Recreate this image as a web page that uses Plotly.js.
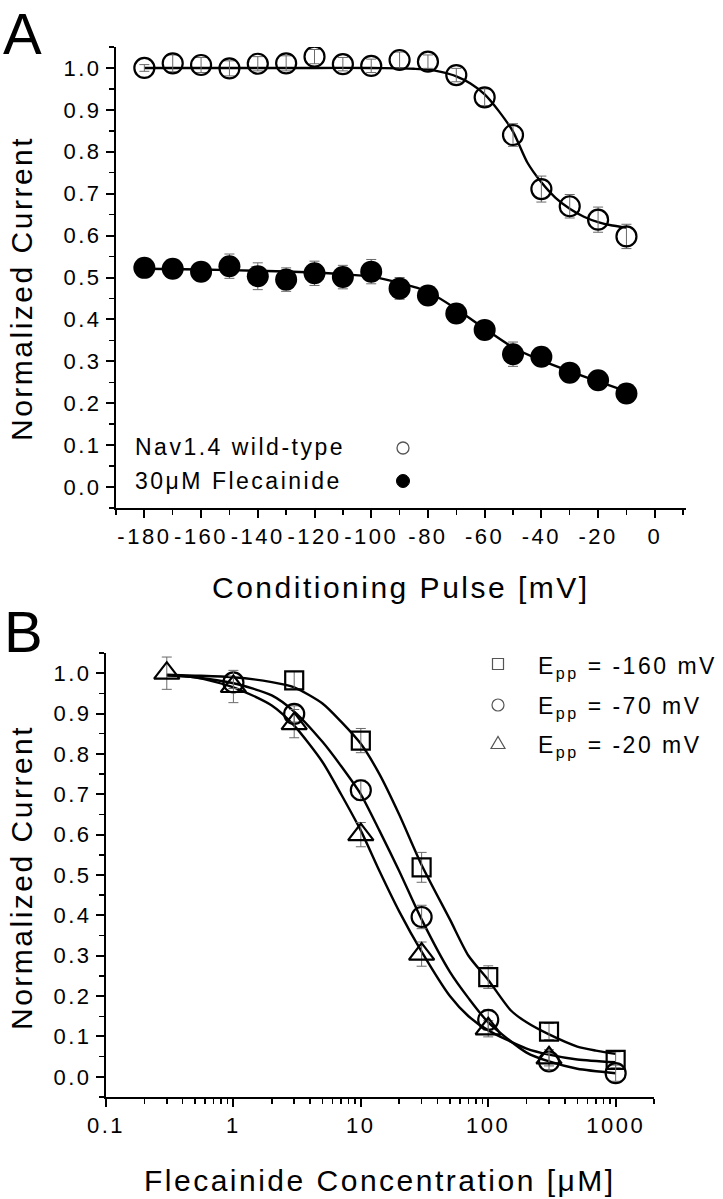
<!DOCTYPE html>
<html><head><meta charset="utf-8">
<script src="https://cdn.plot.ly/plotly-3.0.1.min.js"></script>
<style>
html,body{margin:0;padding:0;background:#fff;}
#chart{width:723px;height:1199px;}
svg text{letter-spacing:2.5px;}
</style></head><body><div id="chart"></div>
<script>
// ---------- Panel A data ----------
const pulseMV = [-180,-170,-160,-150,-140,-130,-120,-110,-100,-90,-80,-70,-60,-50,-40,-30,-20,-10];
const wtCurrent = [1.000,1.011,1.007,0.999,1.010,1.011,1.027,1.009,1.005,1.019,1.015,0.983,0.930,0.840,0.711,0.670,0.638,0.598];
const wtErr     = [0.008,0.020,0.018,0.018,0.017,0.018,0.017,0.016,0.016,0.019,0.016,0.016,0.020,0.027,0.031,0.028,0.030,0.029];
const flecCurrent = [0.523,0.521,0.514,0.527,0.503,0.495,0.510,0.501,0.514,0.474,0.457,0.414,0.375,0.317,0.311,0.273,0.255,0.223];
const flecErr     = [0.012,0.012,0.012,0.029,0.032,0.028,0.029,0.028,0.029,0.026,0.015,0.015,0.015,0.029,0.015,0.015,0.015,0.012];
const wtFitMV  = [-180,-160,-140,-120,-100,-90,-85,-80,-75,-70,-65,-60,-55,-50,-45,-40,-35,-30,-25,-20,-15,-10];
const wtFit    = [1.000,1.000,1.000,1.000,1.000,0.999,0.998,0.996,0.990,0.980,0.963,0.937,0.897,0.848,0.775,0.727,0.690,0.664,0.645,0.632,0.624,0.619];
const flecFitMV = [-180,-160,-140,-120,-110,-100,-90,-80,-70,-60,-50,-40,-30,-20,-10];
const flecFit   = [0.521,0.519,0.516,0.512,0.508,0.502,0.487,0.466,0.425,0.378,0.333,0.302,0.276,0.252,0.228];
const pulseTicks = [-180,-160,-140,-120,-100,-80,-60,-40,-20,0];
const pulseTickText = ['-180','-160','-140','-120','-100','-80','-60','-40','-20','0'];
const legendA = ['Nav1.4 wild-type','30\u03bcM Flecainide'];

// ---------- Panel B data ----------
const sqConc = [3,10,30,100,300,1000];
const sqVal  = [0.982,0.833,0.519,0.247,0.112,0.042];
const sqErr  = [0.022,0.030,0.037,0.028,0.020,0.020];
const ciConc = [1,3,10,30,100,300,1000];
const ciVal  = [0.977,0.899,0.710,0.396,0.141,0.038,0.009];
const ciErr  = [0.015,0.020,0.025,0.029,0.025,0.020,0.020];
const trConc = [0.3,1,3,10,30,100,300];
const trVal  = [1.000,0.967,0.875,0.600,0.304,0.119,0.047];
const trErr  = [0.040,0.040,0.035,0.030,0.030,0.020,0.020];
const sqFitConc = [0.3,0.5,1,2,3,5,7,10,14,20,30,50,70,100,150,200,300,500,700,1000];
const sqFit     = [0.996,0.994,0.990,0.978,0.965,0.925,0.880,0.825,0.750,0.650,0.525,0.390,0.300,0.240,0.165,0.135,0.105,0.075,0.065,0.057];
const ciFitConc = [0.3,0.5,1,2,3,5,7,10,14,20,30,50,70,100,200,300,500,1000];
const ciFit     = [0.995,0.990,0.975,0.945,0.905,0.830,0.770,0.700,0.610,0.510,0.390,0.260,0.195,0.135,0.060,0.038,0.020,0.009];
const trFitConc = [0.3,0.5,1,2,3,5,7,10,14,20,30,50,70,100,200,300,500,1000];
const trFit     = [0.995,0.990,0.965,0.920,0.870,0.780,0.700,0.610,0.510,0.410,0.310,0.200,0.150,0.115,0.070,0.055,0.043,0.036];
const concTicks = [0.1,1,10,100,1000];
const concTickText = ['0.1','1','10','100','1000'];
const legendB = ['E<sub>pp</sub> = -160 mV','E<sub>pp</sub> = -70 mV','E<sub>pp</sub> = -20 mV'];

const yTicks = [0,0.1,0.2,0.3,0.4,0.5,0.6,0.7,0.8,0.9,1.0];
const yTickText = ['0.0','0.1','0.2','0.3','0.4','0.5','0.6','0.7','0.8','0.9','1.0'];

// ---------- helpers ----------
const W = 723, H = 1199;
const px = x => x / W, py = y => 1 - y / H;
const FONT = 'Liberation Sans, Arial, Helvetica, sans-serif';
const errStyle = arr => ({type:'data', array: arr, visible:true, color:'#6a6a6a', thickness:1, width:5});
const fitLine = {color:'#000', width:2.4, shape:'spline', smoothing:0.7};

const traces = [
  {x: wtFitMV, y: wtFit, mode:'lines', line: fitLine, xaxis:'x', yaxis:'y', hoverinfo:'skip'},
  {x: flecFitMV, y: flecFit, mode:'lines', line: fitLine, xaxis:'x', yaxis:'y', hoverinfo:'skip'},
  {x: pulseMV, y: wtCurrent, mode:'markers', error_y: errStyle(wtErr),
   marker:{symbol:'circle-open', size:20, color:'#000', line:{width:2.2}}, xaxis:'x', yaxis:'y'},
  {x: pulseMV, y: flecCurrent, mode:'markers', error_y: errStyle(flecErr),
   marker:{symbol:'circle', size:22, color:'#000'}, xaxis:'x', yaxis:'y'},

  {x: sqFitConc, y: sqFit, mode:'lines', line: fitLine, xaxis:'x2', yaxis:'y2'},
  {x: ciFitConc, y: ciFit, mode:'lines', line: fitLine, xaxis:'x2', yaxis:'y2'},
  {x: trFitConc, y: trFit, mode:'lines', line: fitLine, xaxis:'x2', yaxis:'y2'},
  {x: sqConc, y: sqVal, mode:'markers', error_y: errStyle(sqErr),
   marker:{symbol:'square-open', size:18, color:'#000', line:{width:2.2}}, xaxis:'x2', yaxis:'y2'},
  {x: ciConc, y: ciVal, mode:'markers', error_y: errStyle(ciErr),
   marker:{symbol:'circle-open', size:20, color:'#000', line:{width:2.2}}, xaxis:'x2', yaxis:'y2'},
  {x: trConc, y: trVal, mode:'markers', error_y: errStyle(trErr),
   marker:{symbol:'triangle-up-open', size:22, color:'#000', line:{width:2.2}}, xaxis:'x2', yaxis:'y2'}
];

const axBase = {showline:true, linecolor:'#000', linewidth:2, ticks:'outside', ticklen:8, tickwidth:2,
  tickcolor:'#000', showgrid:false, zeroline:false, fixedrange:true,
  tickfont:{family:FONT, size:22, color:'#000'}};

const layout = {
  width: W, height: H, margin:{l:0,r:0,t:0,b:0}, showlegend:false,
  paper_bgcolor:'#fff', plot_bgcolor:'rgba(0,0,0,0)',
  font:{family:FONT, color:'#000'},
  xaxis: Object.assign({}, axBase, {domain:[px(116), px(686)], range:[-190, 11], anchor:'y',
    tickmode:'array', tickvals: pulseTicks, ticktext: pulseTickText,
    minor:{tickmode:'linear', tick0:0, dtick:10, ticklen:5, tickwidth:1.5, tickcolor:'#000', showgrid:false}}),
  yaxis: Object.assign({}, axBase, {domain:[py(508), py(47)], range:[-0.05, 1.05], anchor:'x',
    tickmode:'array', tickvals: yTicks, ticktext: yTickText,
    minor:{tickmode:'linear', tick0:0, dtick:0.05, ticklen:5, tickwidth:1.5, tickcolor:'#000', showgrid:false}}),
  xaxis2: Object.assign({}, axBase, {domain:[px(106), px(654)], type:'log', range:[-1, Math.log10(2000)], anchor:'y2',
    tickmode:'array', tickvals: concTicks, ticktext: concTickText,
    minor:{dtick:'D1', ticklen:5, tickwidth:1.5, tickcolor:'#000', showgrid:false}}),
  yaxis2: Object.assign({}, axBase, {domain:[py(1097), py(653)], range:[-0.05, 1.05], anchor:'x2',
    tickmode:'array', tickvals: yTicks, ticktext: yTickText,
    minor:{tickmode:'linear', tick0:0, dtick:0.05, ticklen:5, tickwidth:1.5, tickcolor:'#000', showgrid:false}}),
  annotations: [
    {text:'A', x:px(2), y:py(0), xanchor:'left', yanchor:'top', borderpad:0, font:{size:58}},
    {text:'B', x:px(2), y:py(631), xanchor:'left', yanchor:'middle', font:{size:58}},
    {text:'Conditioning Pulse [mV]', x:px(401), y:py(587), xanchor:'center', yanchor:'middle', font:{size:30}},
    {text:'Normalized Current', x:px(21), y:py(289), textangle:-90, xanchor:'center', yanchor:'middle', font:{size:30}},
    {text:'Flecainide Concentration [\u03bcM]', x:px(380), y:py(1180), xanchor:'center', yanchor:'middle', font:{size:30}},
    {text:'Normalized Current', x:px(21), y:py(878), textangle:-90, xanchor:'center', yanchor:'middle', font:{size:30}},
    {text:legendA[0], x:px(133), y:py(447), xanchor:'left', yanchor:'middle', font:{size:23}},
    {text:legendA[1], x:px(133), y:py(481), xanchor:'left', yanchor:'middle', font:{size:23}},
    {text:legendB[0], x:px(536), y:py(667), xanchor:'left', yanchor:'middle', font:{size:23}},
    {text:legendB[1], x:px(536), y:py(707), xanchor:'left', yanchor:'middle', font:{size:23}},
    {text:legendB[2], x:px(536), y:py(746), xanchor:'left', yanchor:'middle', font:{size:23}}
  ].map(a => Object.assign({xref:'paper', yref:'paper', showarrow:false}, a, {font:Object.assign({family:FONT, color:'#000'}, a.font)})),
  shapes: [
    {type:'circle', x0:-6, x1:6, y0:-6, y1:6, xanchor:px(403), yanchor:py(448), line:{color:'#555', width:1.3}},
    {type:'circle', x0:-6.5, x1:6.5, y0:-6.5, y1:6.5, xanchor:px(403), yanchor:py(481), fillcolor:'#000', line:{color:'#000', width:1}},
    {type:'rect', x0:-5.5, x1:5.5, y0:-5.5, y1:5.5, xanchor:px(498), yanchor:py(664), line:{color:'#555', width:1.2}},
    {type:'circle', x0:-6, x1:6, y0:-6, y1:6, xanchor:px(498), yanchor:py(705), line:{color:'#555', width:1.2}},
    {type:'path', path:'M -7,-4.5 L 7,-4.5 L 0,7.5 Z', xanchor:px(498), yanchor:py(744), line:{color:'#555', width:1.2}}
  ].map(s => Object.assign({xref:'paper', yref:'paper', xsizemode:'pixel', ysizemode:'pixel', layer:'above'}, s))
};

Plotly.newPlot('chart', traces, layout, {displayModeBar:false, staticPlot:true});
</script></body></html>
